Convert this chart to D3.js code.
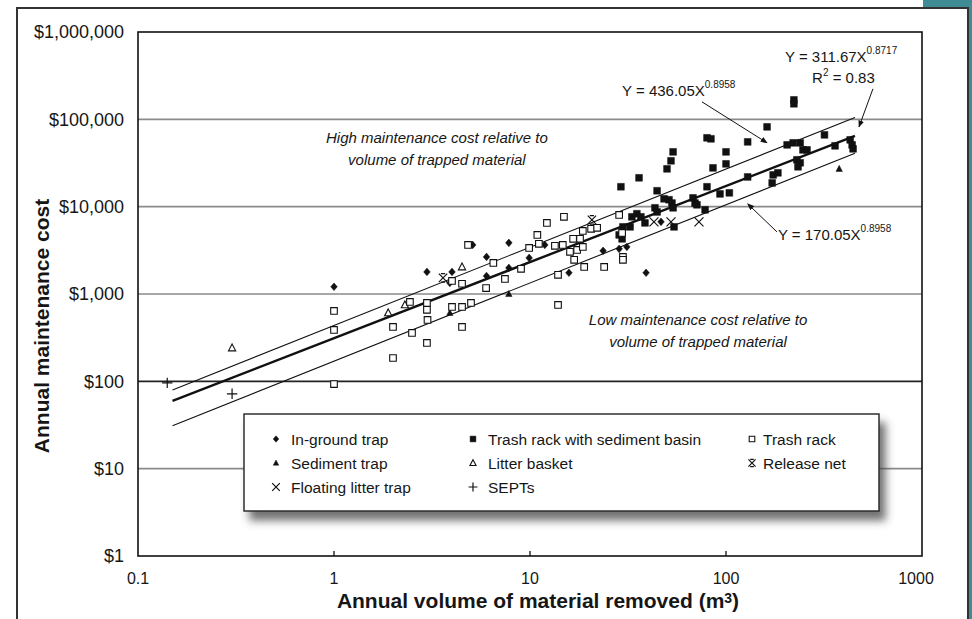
<!DOCTYPE html>
<html lang="en">
<head>
<meta charset="UTF-8">
<title>Annual maintenance cost vs volume of material removed</title>
<script src="https://d3js.org/d3.v7.min.js"></script>
<style>
  body { margin: 0; background: #fff; }
  svg text { font-family: "Liberation Sans", Arial, Helvetica, sans-serif; fill: #161616; }
</style>
</head>
<body>
<div id="chart"></div>
<script>
// [volume removed (m3), annual cost ($)]
const inGroundTrap = [
  [1.0, 1210], [2.98, 1790], [4.0, 1790], [3.9, 1340], [5.1, 3650], [7.8, 3850],
  [6.0, 2660], [6.0, 1610], [7.8, 1990], [9.9, 2590], [11.9, 3650], [15.8, 1750],
  [23.6, 3120], [28.5, 3290], [31.2, 3460], [39.1, 1750], [46.6, 6700]
];
const sedimentTrap = [[3.9, 608], [7.8, 1000], [378, 27100]];
const floatingLitterTrap = [[42.9, 6700], [52.4, 6700], [72.8, 6700]];
const trashRackSediment = [
  [29.1, 16900], [36.0, 21400], [222, 167000], [222, 150600], [162, 82000], [129, 55200],
  [80, 61400], [83.8, 59800], [53.7, 42400], [52.4, 33500], [50.0, 27100], [100, 42400],
  [100, 30900], [85.8, 27800], [80, 16900], [93.2, 14000], [104, 14400], [129, 21900],
  [174, 23100], [184, 24400], [172, 18700], [205, 51000], [220, 53800], [239, 53800],
  [247, 44700], [259, 44700], [230, 34400], [239, 31800], [233, 28600], [318, 66400],
  [360, 49700], [430, 58200], [440, 51000], [445, 45900], [44.5, 15200], [48.3, 12300],
  [51.2, 12000], [53.0, 11000], [43.4, 9700], [44.5, 8700], [53.7, 9700], [67.9, 12600],
  [69.5, 11000], [71.1, 10500], [78.2, 9200], [54.3, 5870], [33.1, 7650], [35.1, 8300],
  [36.8, 7650], [38.6, 6520], [28.5, 4750], [29.5, 4280], [29.8, 5870], [32.4, 5870]
];
const litterBasket = [[0.302, 241], [1.89, 608], [2.3, 750], [4.5, 2040]];
const septs = [[0.141, 96], [0.302, 72]];
const trashRack = [
  [1.0, 640], [1.0, 388], [1.0, 93], [2.0, 420], [2.0, 185], [2.44, 812], [2.98, 791],
  [2.98, 658], [3.0, 505], [2.98, 275], [2.5, 358], [4.0, 711], [4.5, 711], [5.0, 791],
  [4.5, 420], [4.0, 1410], [4.5, 1310], [4.83, 3650], [6.5, 2270], [7.45, 1490],
  [5.97, 1170], [9.0, 1940], [9.9, 3370], [10.9, 4750], [11.1, 3750], [12.2, 6520],
  [13.4, 3560], [14.9, 7650], [14.7, 3650], [16.0, 3040], [17.4, 3200], [16.8, 2460],
  [18.6, 3460], [16.6, 4280], [18.0, 4280], [18.6, 5280], [20.5, 5570], [22.0, 5720],
  [18.9, 2040], [23.9, 2040], [13.9, 1660], [13.9, 750], [28.5, 8050], [29.5, 5010],
  [29.8, 2660], [29.8, 2460]
];
const releaseNet = [[3.6, 1530], [20.7, 7060]];

const xTickValues = [0.1, 1, 10, 100, 1000];
const xTickLabels = ["0.1", "1", "10", "100", "1000"];
const yTickValues = [1, 10, 100, 1000, 10000, 100000, 1000000];
const yTickLabels = ["$1", "$10", "$100", "$1,000", "$10,000", "$100,000", "$1,000,000"];

// fitted power curves Y = a X^b
const fitCoefs = [311.67, 436.05, 170.05];
const fitExponents = [0.8717, 0.8958, 0.8958];
const fitRange = [0.15, 455];

const series = [
  { name: "In-ground trap", data: inGroundTrap, shape: "diamond" },
  { name: "Sediment trap", data: sedimentTrap, shape: "triangle" },
  { name: "Floating litter trap", data: floatingLitterTrap, shape: "x" },
  { name: "Trash rack with sediment basin", data: trashRackSediment, shape: "square" },
  { name: "Litter basket", data: litterBasket, shape: "triangleOpen" },
  { name: "SEPTs", data: septs, shape: "plus" },
  { name: "Trash rack", data: trashRack, shape: "squareOpen" },
  { name: "Release net", data: releaseNet, shape: "star" }
];

const W = 972, H = 619;
const plot = { left: 138, right: 922, top: 32, bottom: 556 };

const svg = d3.select("#chart").append("svg")
  .attr("width", W).attr("height", H);

const defs = svg.append("defs");
const shadow = defs.append("filter").attr("id", "shadow")
  .attr("x", "-10%").attr("y", "-20%").attr("width", "130%").attr("height", "160%");
shadow.append("feDropShadow").attr("dx", 6).attr("dy", 9)
  .attr("stdDeviation", 4).attr("flood-color", "#444").attr("flood-opacity", 0.75);
defs.append("marker").attr("id", "arrow")
  .attr("viewBox", "0 0 10 10").attr("refX", 9).attr("refY", 5)
  .attr("markerWidth", 7).attr("markerHeight", 7).attr("orient", "auto")
  .append("path").attr("d", "M0,1 L10,5 L0,9 Z").attr("fill", "#111");

// outer frame of the figure and the strip of page behind it
svg.append("rect").attr("x", 923).attr("y", 0).attr("width", 49).attr("height", 9).attr("fill", "#3f8c95");
svg.append("rect").attr("x", 968).attr("y", 0).attr("width", 4).attr("height", H).attr("fill", "#3f8c95");
svg.append("rect").attr("x", 17).attr("y", 8).attr("width", 951).attr("height", 640)
  .attr("fill", "#fff").attr("stroke", "#333").attr("stroke-width", 2);

const x = d3.scaleLog().domain([0.1, 1000]).range([plot.left, plot.right]);
const y = d3.scaleLog().domain([1, 1000000]).range([plot.bottom, plot.top]);

// horizontal gridlines
svg.append("g").selectAll("line")
  .data(yTickValues.filter(v => v > 1 && v < 1000000))
  .join("line")
  .attr("x1", plot.left).attr("x2", plot.right)
  .attr("y1", d => y(d)).attr("y2", d => y(d))
  .attr("stroke", d => d === 100 ? "#222" : "#8a8a8a")
  .attr("stroke-width", 1.6);

// y axis labels
svg.append("g").selectAll("text")
  .data(yTickValues)
  .join("text")
  .attr("x", plot.left - 14)
  .attr("y", d => y(d))
  .attr("dy", "0.36em")
  .attr("text-anchor", "end")
  .attr("font-size", 18)
  .text((d, i) => yTickLabels[i]);

// x axis labels and small inner ticks
svg.append("g").selectAll("text")
  .data(xTickValues)
  .join("text")
  .attr("x", (d, i) => i === xTickValues.length - 1 ? x(d) - 6 : x(d))
  .attr("y", plot.bottom + 28)
  .attr("text-anchor", "middle")
  .attr("font-size", 16)
  .text((d, i) => xTickLabels[i]);
svg.append("g").selectAll("line")
  .data(xTickValues.slice(1, -1))
  .join("line")
  .attr("x1", d => x(d)).attr("x2", d => x(d))
  .attr("y1", plot.bottom).attr("y2", plot.bottom - 5)
  .attr("stroke", "#111").attr("stroke-width", 1.3);

// plot border
svg.append("rect")
  .attr("x", plot.left).attr("y", plot.top)
  .attr("width", plot.right - plot.left).attr("height", plot.bottom - plot.top)
  .attr("fill", "none").attr("stroke", "#111").attr("stroke-width", 1.6);

// axis titles
svg.append("text")
  .attr("transform", `translate(49,${(plot.top + plot.bottom) / 2 + 32}) rotate(-90)`)
  .attr("text-anchor", "middle")
  .attr("font-size", 21).attr("font-weight", "bold")
  .text("Annual maintenance cost");
const xTitle = svg.append("text")
  .attr("x", 538).attr("y", 608)
  .attr("text-anchor", "middle")
  .attr("font-size", 21).attr("font-weight", "bold");
xTitle.append("tspan").text("Annual volume of material removed (m");
xTitle.append("tspan").attr("font-size", 14).attr("dy", -5).text("3");
xTitle.append("tspan").attr("dy", 5).text(")");

// fitted lines
const fitLine = d3.line().x(d => x(d[0])).y(d => y(d[1]));
fitCoefs.forEach((a, i) => {
  const pts = fitRange.map(v => [v, a * Math.pow(v, fitExponents[i])]);
  svg.append("path")
    .attr("d", fitLine(pts))
    .attr("fill", "none")
    .attr("stroke", "#111")
    .attr("stroke-width", i === 0 ? 2.4 : 1.1);
});

// marker shapes
function shapePath(shape, s) {
  switch (shape) {
    case "square": case "squareOpen":
      return `M${-s},${-s}h${2 * s}v${2 * s}h${-2 * s}Z`;
    case "diamond":
      return `M0,${-s * 1.15}L${s},0L0,${s * 1.15}L${-s},0Z`;
    case "triangle": case "triangleOpen":
      return `M0,${-s * 1.1}L${s},${s * 0.8}L${-s},${s * 0.8}Z`;
    case "x":
      return `M${-s},${-s}L${s},${s}M${s},${-s}L${-s},${s}`;
    case "plus":
      return `M${-s * 1.3},0H${s * 1.3}M0,${-s * 1.3}V${s * 1.3}`;
    case "star":
      return `M${-s},${-s}L${s},${s}M${s},${-s}L${-s},${s}M${-s * 0.5},${-s}H${s * 0.5}M${-s * 0.5},${s}H${s * 0.5}`;
  }
}
const shapeSize = { square: 3.4, squareOpen: 3.3, diamond: 3.3, triangle: 3.2, triangleOpen: 3.6, x: 4.5, plus: 4, star: 4.2 };
function styleShape(sel, shape) {
  const filled = ["square", "diamond", "triangle"].includes(shape);
  const open = ["squareOpen", "triangleOpen"].includes(shape);
  sel.attr("fill", filled ? "#111" : open ? "#fff" : "none")
    .attr("stroke", "#111")
    .attr("stroke-width", filled ? 0.5 : open ? 1.1 : 1.2);
}

const pointLayer = svg.append("g");
series.forEach(sr => {
  const g = pointLayer.append("g");
  g.selectAll("path")
    .data(sr.data)
    .join("path")
    .attr("transform", d => `translate(${x(d[0])},${y(d[1])})`)
    .attr("d", shapePath(sr.shape, shapeSize[sr.shape]))
    .call(styleShape, sr.shape);
});

// legend
const legend = { x: 244, y: 414, w: 635, h: 97 };
svg.append("rect")
  .attr("x", legend.x).attr("y", legend.y)
  .attr("width", legend.w).attr("height", legend.h)
  .attr("fill", "#fff").attr("stroke", "#222").attr("stroke-width", 1.4)
  .attr("filter", "url(#shadow)");
const legendCols = [32, 229, 508];
const legendOrder = [[0, 1, 2], [3, 4, 5], [6, 7]];
legendOrder.forEach((col, ci) => {
  col.forEach((si, ri) => {
    const sr = series[si];
    const cx = legend.x + legendCols[ci];
    const cy = legend.y + 25 + ri * 24;
    svg.append("path")
      .attr("transform", `translate(${cx},${cy})`)
      .attr("d", shapePath(sr.shape, shapeSize[sr.shape] * 0.85))
      .call(styleShape, sr.shape);
    svg.append("text")
      .attr("x", cx + (ci === 2 ? 11 : 15)).attr("y", cy + 5.5)
      .attr("font-size", 15.5)
      .text(sr.name);
  });
});

// annotations
function notePair(cx, ys, lines) {
  lines.forEach((t, i) => {
    svg.append("text")
      .attr("x", x(cx)).attr("y", y(ys[i]))
      .attr("text-anchor", "middle")
      .attr("font-size", 15).attr("font-style", "italic")
      .attr("fill", "#222")
      .text(t);
  });
}
notePair(3.35, [53800, 30100], ["High maintenance cost relative to", "volume of trapped material"]);
notePair(72, [443, 248], ["Low maintenance cost relative to", "volume of trapped material"]);

function equation(px, py, base, sup) {
  const t = svg.append("text").attr("x", x(px)).attr("y", y(py)).attr("font-size", 15);
  t.append("tspan").text(base);
  t.append("tspan").attr("font-size", 10).attr("dy", -8).text(sup);
}
equation(200, 456000, "Y = 311.67X", "0.8717");
equation(29.5, 186000, "Y = 436.05X", "0.8958");
equation(184, 4170, "Y = 170.05X", "0.8958");
const r2 = svg.append("text").attr("x", x(275)).attr("y", y(262000)).attr("font-size", 15);
r2.append("tspan").text("R");
r2.append("tspan").attr("font-size", 10).attr("dy", -7).text("2");
r2.append("tspan").attr("dy", 7).text(" = 0.83");

const arrows = [
  [[75.4, 158500], [162, 53800]],
  [[562, 223600], [477, 82000]],
  [[182, 5140], [129, 10770]]
];
svg.append("g").selectAll("path")
  .data(arrows)
  .join("path")
  .attr("d", d => fitLine(d))
  .attr("fill", "none")
  .attr("stroke", "#111")
  .attr("stroke-width", 1)
  .attr("marker-end", "url(#arrow)");
</script>
</body>
</html>
